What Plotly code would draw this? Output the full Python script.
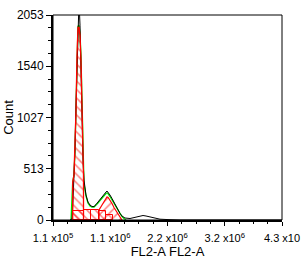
import plotly.graph_objects as go

# ---- data ----
raw_x = [421e3, 458e3, 476e3, 494e3, 513e3, 531e3, 549e3, 567e3, 586e3, 604e3,
         622e3, 641e3, 659e3, 677e3, 696e3, 714e3, 750e3, 787e3, 824e3, 860e3,
         897e3, 933e3, 970e3, 1007e3, 1043e3, 1080e3, 1098e3, 1116e3, 1153e3, 1190e3,
         1226e3, 1263e3, 1299e3, 1336e3, 1372e3, 1427e3, 1519e3, 1610e3, 1702e3, 1757e3,
         1812e3, 1885e3, 1976e3, 2068e3, 2251e3, 2434e3, 4300e3]
raw_counts = [0, 10, 200, 420, 720, 1150, 1650, 1950, 2200, 1950,
              1500, 900, 600, 400, 320, 250, 180, 150, 135, 135,
              155, 180, 215, 240, 260, 280, 290, 280, 250, 215,
              175, 135, 100, 65, 40, 20, 15, 25, 35, 45,
              40, 30, 15, 8, 3, 0, 0]

fit_x = [440e3, 470e3, 494e3, 513e3, 531e3, 549e3, 567e3, 586e3, 604e3, 622e3,
         641e3, 659e3, 677e3, 714e3, 750e3, 787e3, 824e3, 860e3, 897e3, 933e3,
         970e3, 1007e3, 1043e3, 1080e3, 1098e3, 1116e3, 1153e3, 1190e3, 1226e3, 1263e3,
         1299e3, 1336e3, 1372e3, 1409e3, 1446e3]
fit_counts = [0, 380, 450, 700, 1120, 1700, 1940, 1950, 1870, 1640,
              1080, 520, 360, 240, 170, 140, 128, 128, 145, 170,
              195, 220, 245, 265, 270, 265, 235, 200, 165, 125,
              90, 60, 35, 15, 0]

g1_x = [470e3, 470e3, 494e3, 513e3, 531e3, 549e3, 567e3, 586e3, 604e3, 622e3, 641e3, 668e3, 668e3]
g1_counts = [0, 380, 450, 700, 1100, 1650, 1930, 1930, 1850, 1600, 1000, 450, 0]

s_edges = [476e3, 668e3, 805e3, 952e3, 1080e3, 1208e3]
s_counts = [95, 100, 100, 90, 50]

g2_x = [952e3, 952e3, 1007e3, 1043e3, 1080e3, 1098e3, 1116e3, 1153e3, 1190e3, 1226e3, 1263e3, 1299e3, 1336e3, 1372e3]
g2_counts = [0, 100, 150, 185, 215, 230, 228, 200, 165, 125, 90, 55, 25, 0]

x_tickvals = [1.1e5, 1.1575e6, 2.205e6, 3.2525e6, 4.3e6]
x_ticktext = ["1.1 x10<sup>5</sup>", "1.1 x10<sup>6</sup>", "2.2 x10<sup>6</sup>",
              "3.2 x10<sup>6</sup>", "4.3 x10"]
y_tickvals = [0, 513.25, 1026.5, 1539.75, 2053]
y_ticktext = ["0", "513", "1027", "1540", "2053"]

# ---- figure ----
s_centers = [(a + b) / 2 for a, b in zip(s_edges[:-1], s_edges[1:])]
s_widths = [b - a for a, b in zip(s_edges[:-1], s_edges[1:])]

hatch = dict(fgcolor="red", bgcolor="rgba(0,0,0,0)", size=6, solidity=0.25)

fig = go.Figure()
fig.add_trace(go.Scatter(x=fit_x, y=fit_counts, mode="lines",
                         line=dict(color="#00e600", width=1.3), hoverinfo="skip"))
fig.add_trace(go.Scatter(x=raw_x, y=raw_counts, mode="lines",
                         line=dict(color="black", width=1), hoverinfo="skip"))
fig.add_trace(go.Bar(x=s_centers, y=s_counts, width=s_widths,
                     marker=dict(color="rgba(0,0,0,0)",
                                 line=dict(color="red", width=1),
                                 pattern=dict(shape="\\", **hatch)),
                     hoverinfo="skip"))
fig.add_trace(go.Scatter(x=g2_x, y=g2_counts, mode="lines", fill="toself",
                         fillcolor="rgba(0,0,0,0)",
                         fillpattern=dict(shape="/", **hatch),
                         line=dict(color="red", width=1.2), hoverinfo="skip"))
fig.add_trace(go.Scatter(x=g1_x, y=g1_counts, mode="lines", fill="toself",
                         fillcolor="rgba(0,0,0,0)",
                         fillpattern=dict(shape="\\", **hatch),
                         line=dict(color="red", width=1.3), hoverinfo="skip"))

font = dict(family="Liberation Sans, Arial, sans-serif", color="black")

fig.update_layout(
    width=308, height=269,
    margin=dict(l=53, r=26, t=15, b=49, autoexpand=False),
    paper_bgcolor="white", plot_bgcolor="white",
    showlegend=False, barmode="overlay", bargap=0,
    font=dict(size=11, **font),
    shapes=[dict(type="rect", xref="paper", yref="paper", x0=0, y0=0, x1=1, y1=1,
                 line=dict(color="black", width=1), layer="above")],
)
fig.update_xaxes(
    range=[1.1e5, 4.3e6], tickmode="array", tickvals=x_tickvals, ticktext=x_ticktext,
    ticks="outside", ticklen=4, tickwidth=1, tickcolor="black", automargin=False,
    ticklabelstandoff=3,
    showline=True, linecolor="black", linewidth=2, showgrid=False, zeroline=False,
    tickfont=dict(size=11, **font),
    minor=dict(ticks="outside", ticklen=2, tick0=1.1e5, dtick=261875, tickcolor="black", showgrid=False),
    title=dict(text="FL2-A FL2-A", font=dict(size=13, **font), standoff=3),
)
fig.update_yaxes(
    range=[0, 2053], tickmode="array", tickvals=y_tickvals, ticktext=y_ticktext,
    ticks="outside", ticklen=5, tickwidth=1, tickcolor="black", automargin=False,
    ticklabelstandoff=0,
    showline=True, linecolor="black", linewidth=2, showgrid=False, zeroline=False,
    tickfont=dict(size=12, **font),
    minor=dict(ticks="outside", ticklen=3, tick0=0, dtick=128.3125, tickcolor="black", showgrid=False),
    title=dict(text="Count", font=dict(size=13, **font), standoff=0),
)

fig.write_html("out.html")
